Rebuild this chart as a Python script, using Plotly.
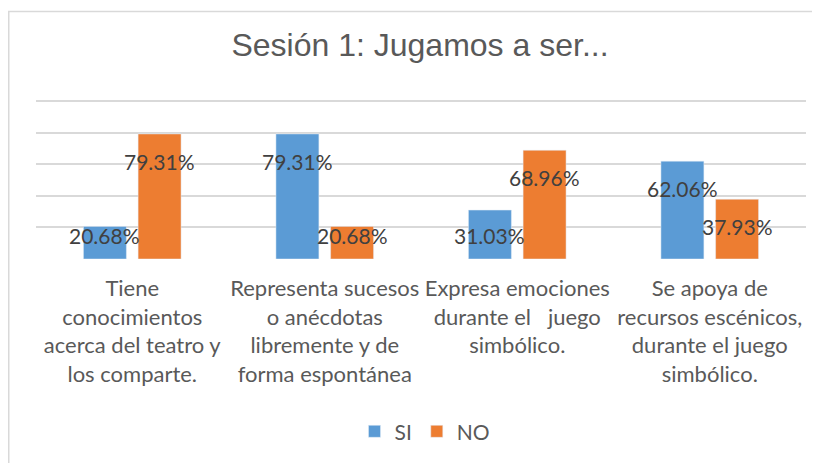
import plotly.graph_objects as go

categories = [
    "Tiene<br>conocimientos<br>acerca del teatro y<br>los comparte.",
    "Representa sucesos<br>o anécdotas<br>libremente y de<br>forma espontánea",
    "Expresa emociones<br>durante el &nbsp; juego<br>simbólico.",
    "Se apoya de<br>recursos escénicos,<br>durante el juego<br>simbólico.",
]
si_values = [20.68, 79.31, 31.03, 62.06]
no_values = [79.31, 20.68, 68.96, 37.93]
si_labels = ["20.68%", "79.31%", "31.03%", "62.06%"]
no_labels = ["79.31%", "20.68%", "68.96%", "37.93%"]

BLUE = "#5b9bd5"
ORANGE = "#ed7d31"
TEXT = "#595959"
LABEL = "#404040"
GRID = "#d9d9d9"
BARGAP = 0.432
YMAX = 104
FONT = "Lato, Carlito, Liberation Sans Narrow, sans-serif"

# the page body adds an 8px margin, so everything is placed 8px up/left
PAD = 8
W, H = 820, 463
base_px = 259            # screen y of the 0 line
px_per_unit = 158 / 100  # 100% spans 158px
ph = px_per_unit * YMAX
L, R = 36 - PAD, 14 + PAD
B = H - (base_px - PAD)
T = H - B - ph
pw = W - L - R

fig = go.Figure()
fig.add_trace(go.Bar(x=categories, y=si_values, name="SI", marker_color=BLUE))
fig.add_trace(go.Bar(x=categories, y=no_values, name="NO", marker_color=ORANGE))

# data labels, centred on each bar, a bit below the top
off = (1 - BARGAP) / 4
for i, (vs, vn) in enumerate(zip(si_values, no_values)):
    for v, txt, dx in ((vs, si_labels[i], -off), (vn, no_labels[i], off)):
        fig.add_annotation(
            x=i + dx, y=max(v - 17.5, 15), text=txt, showarrow=False,
            xref="x", yref="y", yanchor="middle",
            font=dict(family=FONT, size=21, color=LABEL),
        )

# light frame around the chart (only top and left edges show)
fig.add_shape(
    type="rect", xref="paper", yref="paper",
    x0=(0.75 - L) / pw, x1=1.1, y0=-1.6, y1=(H - B - (11 - PAD)) / ph,
    line=dict(color=GRID, width=1.5), fillcolor="rgba(0,0,0,0)",
)

fig.update_layout(
    width=W, height=H,
    margin=dict(l=L, r=R, t=T, b=B),
    title=dict(
        text="Sesión 1: Jugamos a ser...", x=(420 - PAD) / W, xanchor="center",
        y=1 - (45 - PAD) / H, yanchor="middle",
        font=dict(family="Liberation Sans, Arial", size=32, color=TEXT),
    ),
    barmode="group", bargap=BARGAP, bargroupgap=0.214,
    plot_bgcolor="white", paper_bgcolor="white",
    showlegend=True,
    legend=dict(
        orientation="h", x=(425 - PAD - L) / pw, xanchor="center",
        y=(H - B - (432 - PAD)) / ph, yanchor="middle",
        font=dict(family=FONT, size=21, color=TEXT),
    ),
)
fig.update_xaxes(
    tickfont=dict(family=FONT, size=22, color=TEXT),
    showgrid=False, showline=False, ticks="", ticklabelstandoff=14,
)
fig.update_yaxes(
    range=[0, YMAX], tick0=0, dtick=20, showticklabels=False,
    showgrid=True, gridcolor=GRID, gridwidth=1.5, zeroline=False,
)

fig.write_html("out.html")
